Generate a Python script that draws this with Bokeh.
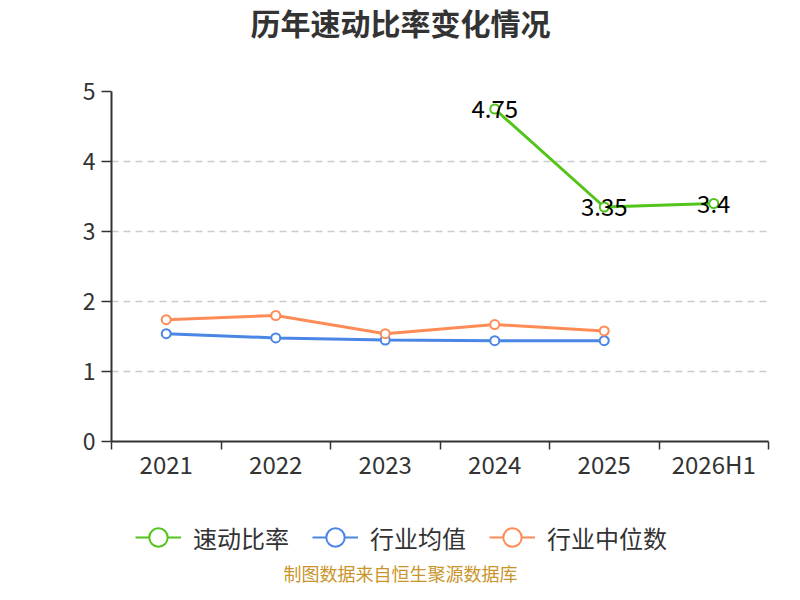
import math

from bokeh.plotting import figure
from bokeh.layouts import column
from bokeh.models import (ColumnDataSource, FactorRange, Range1d, LinearAxis,
                          FixedTicker, Legend, LegendItem, Label)
from bokeh.core.properties import value
from bokeh.embed import file_html
from bokeh.resources import INLINE

nan = float("nan")

# data
years = ["2021", "2022", "2023", "2024", "2025", "2026H1"]
quick_ratio = [nan, nan, nan, 4.75, 3.35, 3.40]
industry_mean = [1.54, 1.48, 1.45, 1.44, 1.44, nan]
industry_median = [1.74, 1.80, 1.54, 1.67, 1.58, nan]
y_ticks = [0, 1, 2, 3, 4, 5]
series_names = ["速动比率", "行业均值", "行业中位数"]
title_text = "历年速动比率变化情况"
source_text = "制图数据来自恒生聚源数据库"

FONT = "Noto Sans CJK SC"
colors = ["#52c41a", "#4a86e6", "#ff8c57"]
axis_color = "#333333"
W = 784
LEFT = 111   # the column lines up all frames at the main plot's left edge


def blank(height):
    f = figure(width=W, height=height, x_range=Range1d(0, 1), y_range=Range1d(0, 1),
               output_backend="svg", toolbar_location=None, x_axis_type=None,
               y_axis_type=None, min_border=0)
    f.outline_line_color = None
    f.grid.visible = False
    return f


# --- title strip ---
head = blank(60)
head.add_layout(Label(x=400 - LEFT, y=39, x_units="screen", y_units="screen",
                      text=title_text, text_align="center", text_baseline="middle",
                      text_font=FONT, text_font_size="30px", text_font_style="bold",
                      text_color=axis_color))

# --- main chart ---
p = figure(width=W, height=440, x_range=FactorRange(*years), y_range=Range1d(0, 5),
           output_backend="svg", toolbar_location=None, x_axis_type=None,
           min_border_left=LEFT, min_border_right=16, min_border_top=31,
           min_border_bottom=59)
p.outline_line_color = None

p.yaxis.ticker = FixedTicker(ticks=y_ticks)
p.yaxis.axis_line_color = axis_color
p.yaxis.axis_line_width = 2
p.yaxis.major_tick_line_color = axis_color
p.yaxis.major_tick_line_width = 1.5
p.yaxis.major_tick_out = 10
p.yaxis.major_tick_in = 0
p.yaxis.minor_tick_line_color = None
p.yaxis.major_label_standoff = 6
p.yaxis.major_label_text_font = FONT
p.yaxis.major_label_text_font_size = "23px"
p.yaxis.major_label_text_color = axis_color
p.ygrid.ticker = FixedTicker(ticks=y_ticks)
p.ygrid.grid_line_color = "#cccccc"
p.ygrid.grid_line_dash = "7 5"
p.ygrid.grid_line_width = 1.5

# x axis: labels at category centres, ticks between categories
centers = [i + 0.5 for i in range(len(years))]
bounds = list(range(len(years) + 1))
xaxis = LinearAxis(ticker=FixedTicker(ticks=centers, minor_ticks=bounds),
                   major_label_overrides={c: yr for c, yr in zip(centers, years)})
xaxis.axis_line_color = axis_color
xaxis.axis_line_width = 2
xaxis.major_tick_line_color = None
xaxis.major_tick_out = 0
xaxis.major_tick_in = 0
xaxis.minor_tick_line_color = axis_color
xaxis.minor_tick_line_width = 1.5
xaxis.minor_tick_out = 8
xaxis.minor_tick_in = 0
xaxis.major_label_standoff = -4
xaxis.major_label_text_font = FONT
xaxis.major_label_text_font_size = "24px"
xaxis.major_label_text_color = axis_color
p.add_layout(xaxis, "below")

for vals, color in zip([quick_ratio, industry_mean, industry_median], colors):
    src = ColumnDataSource(dict(x=years, y=vals))
    p.line("x", "y", source=src, line_color=color, line_width=3)
    p.scatter("x", "y", source=src, size=9, fill_color="white",
              line_color=color, line_width=2)

# value labels on the company series
lab_x = [yr for yr, v in zip(years, quick_ratio) if not math.isnan(v)]
lab_y = [v for v in quick_ratio if not math.isnan(v)]
lab_t = [f"{v:g}" for v in lab_y]
p.text(x=lab_x, y=lab_y, text=lab_t, text_align="center", text_baseline="middle",
       text_font=value(FONT), text_font_size="24px", text_color="#000000")

# --- legend + source strip ---
foot = blank(84)
items = []
for name, color in zip(series_names, colors):
    proxy = ColumnDataSource(dict(x=[nan], y=[nan]))
    ln = foot.line("x", "y", source=proxy, line_color=color, line_width=2)
    sc = foot.scatter("x", "y", source=proxy, size=9, fill_color="white",
                      line_color=color, line_width=2)
    items.append(LegendItem(label=name, renderers=[ln, sc]))

legend = Legend(items=items, location=(135 - LEFT, 21), orientation="horizontal",
                glyph_width=46, glyph_height=52, label_text_font=FONT,
                label_text_font_size="24px", label_text_color=axis_color,
                label_standoff=12, spacing=23, padding=0, margin=0,
                border_line_color=None, background_fill_alpha=0)
foot.add_layout(legend)
foot.add_layout(Label(x=400 - LEFT, y=12, x_units="screen", y_units="screen",
                      text=source_text, text_align="center", text_baseline="middle",
                      text_font=FONT, text_font_size="18px", text_color="#c9952b"))

open("out.html", "w").write(file_html(column(head, p, foot, spacing=0), INLINE))
